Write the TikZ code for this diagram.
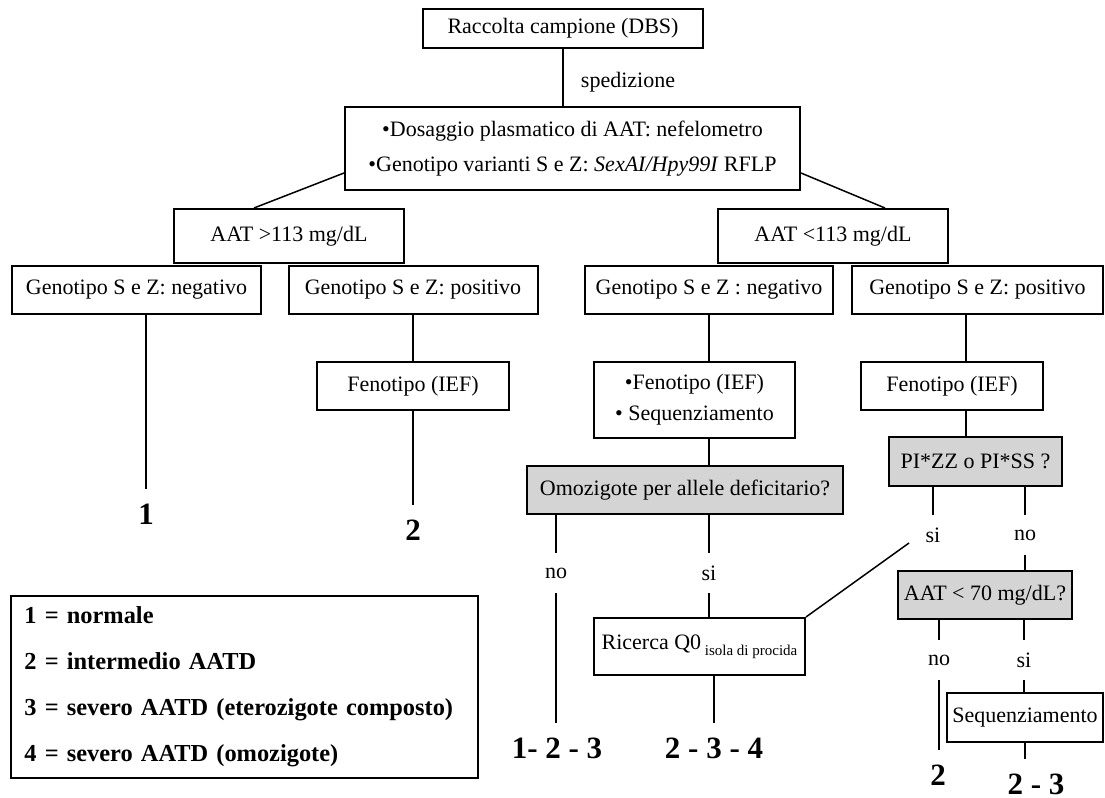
\documentclass[tikz,border=0pt]{standalone}
\usepackage{fontspec}
\setmainfont{Liberation Serif}
\usetikzlibrary{calc}
\definecolor{askgray}{RGB}{212,212,212}

\begin{document}
\begin{tikzpicture}[x=0.5pt,y=-0.5pt,
  box/.style={draw,line width=1pt,inner sep=0pt,font=\fontsize{11}{13}\selectfont},
  askbox/.style={box,fill=askgray},
  link/.style={line width=0.75pt},
  answer/.style={inner sep=0pt,minimum height=20pt,font=\fontsize{11}{13}\selectfont},
  result/.style={inner xsep=0pt,inner ysep=7pt,font=\fontsize{15.5}{18}\selectfont\bfseries}]
  \useasboundingbox (0,0) rectangle (1105,798);

  % Sample and lab tests
  \node[box,minimum width=140pt,minimum height=19.5pt] (racc) at (563,28.5) {Raccolta campione (DBS)};
  \node[font=\fontsize{11}{13}\selectfont] (sped) at (628,82) {spedizione};
  \node[box,minimum width=227.5pt,minimum height=41.5pt,align=center,font=\fontsize{11}{17.5}\selectfont] (dos) at (572.5,148.5)
    {•Dosaggio plasmatico di AAT: nefelometro\\•Genotipo varianti S e Z: \textit{SexAI/Hpy99I} RFLP};

  % AAT level
  \node[box,minimum width=115pt,minimum height=27pt] (aatH) at (289,236) {AAT >113 mg/dL};
  \node[box,minimum width=115pt,minimum height=27pt] (aatL) at (833,236) {AAT <113 mg/dL};

  % Genotype
  \node[box,minimum width=124.5pt,minimum height=24pt] (gnegL) at (136.5,290) {Genotipo S e Z: negativo};
  \node[box,minimum width=124.5pt,minimum height=24pt] (gposL) at (413,290) {Genotipo S e Z: positivo};
  \node[box,minimum width=124pt,minimum height=24pt] (gnegR) at (709,290) {Genotipo S e Z : negativo};
  \node[box,minimum width=125.5pt,minimum height=24pt] (gposR) at (977.5,290) {Genotipo S e Z: positivo};

  % Phenotype
  \node[box,minimum width=96pt,minimum height=24pt] (fenL) at (413,386) {Fenotipo (IEF)};
  \node[box,minimum width=100.5pt,minimum height=38pt,align=center,font=\fontsize{11}{15.5}\selectfont] (fenseq) at (694.5,400)
    {•Fenotipo (IEF)\\• Sequenziamento};
  \node[box,minimum width=91pt,minimum height=24pt] (fenR) at (952,386) {Fenotipo (IEF)};

  % Questions
  \node[askbox,minimum width=158pt,minimum height=24pt] (omoz) at (685,490) {Omozigote per allele deficitario?};
  \node[askbox,minimum width=86.5pt,minimum height=24.5pt] (pizz) at (975.5,461.5) {PI*ZZ o PI*SS ?};
  \node[askbox,minimum width=87pt,minimum height=24pt] (aat70) at (985,595) {AAT < 70 mg/dL?};

  % Further tests
  \node[box,minimum width=105.5pt,minimum height=28.5pt] (ricerca) at (699.5,646.5)
    {Ricerca Q0\,\raisebox{-0.6ex}{\fontsize{7.5}{9}\selectfont isola di procida}};
  \node[box,minimum width=78pt,minimum height=24.5pt] (seqR) at (1025,717.5) {Sequenziamento};

  % si / no
  \node[answer] (noA) at (556,573) {no};
  \node[answer] (siA) at (709,573) {si};
  \node[answer] (siB) at (933,535) {si};
  \node[answer] (noB) at (1025,535) {no};
  \node[answer] (noC) at (939,660) {no};
  \node[answer] (siC) at (1024,660) {si};

  % Outcomes
  \node[result] (res1) at (146,514) {1};
  \node[result] (res2) at (413,530) {2};
  \node[result] (res123) at (557,748) {1- 2 - 3};
  \node[result] (res234) at (714,748) {2 - 3 - 4};
  \node[result] (res2b) at (938,775) {2};
  \node[result] (res23) at (1036,784) {2 - 3};

  % Legend
  \node[box,anchor=north west,minimum width=233.5pt,minimum height=91pt,inner xsep=6.5pt,text width=220pt,align=left,
    font=\fontsize{12.2}{23}\selectfont\bfseries] (legend) at (10,595)
    {1 = normale\\2 = intermedio AATD\\3 = severo AATD (eterozigote composto)\\4 = severo AATD (omozigote)};

  \coordinate (colR) at (966,0);
  \coordinate (bend) at (909,543);

  % Connectors
  \draw[link] (racc.south) -- (racc.south |- dos.north);
  \draw[link] ($(dos.south west)+(0,-18)$) -- ($(aatH.north west)+(81,0)$);
  \draw[link] ($(dos.south east)+(0,-18)$) -- ($(aatL.north west)+(168,0)$);
  \draw[link] (gnegL.south -| res1.north) -- (res1.north);
  \draw[link] (gposL.south) -- (gposL.south |- fenL.north);
  \draw[link] (fenL.south) -- (res2.north);
  \draw[link] (gnegR.south) -- (gnegR.south |- fenseq.north);
  \draw[link] (fenseq.south -| gnegR.south) -- (omoz.north -| gnegR.south);
  \draw[link] (omoz.south -| noA) -- (noA.north);
  \draw[link] (noA.south) -- (noA.south |- res123.north);
  \draw[link] (omoz.south -| siA) -- (siA.north);
  \draw[link] (siA.south) -- (siA.south |- ricerca.north);
  \draw[link] (ricerca.south -| res234.north) -- (res234.north);
  \draw[link] (ricerca.north east) -- (bend);
  \draw[link] (gposR.south -| colR) -- (fenR.north -| colR);
  \draw[link] (fenR.south -| colR) -- (pizz.north -| colR);
  \draw[link] (pizz.south -| siB) -- (siB.north);
  \draw[link] (pizz.south -| noB) -- (noB.north);
  \draw[link] (noB.south) -- (noB.south |- aat70.north);
  \draw[link] (aat70.south -| noC) -- (noC.north);
  \draw[link] (noC.south) -- (noC.south |- res2b.north);
  \draw[link] (aat70.south -| siC) -- (siC.north);
  \draw[link] (siC.south) -- (siC.south |- seqR.north);
  \draw[link] (seqR.south) -- (seqR.south |- res23.north);
\end{tikzpicture}
\end{document}
